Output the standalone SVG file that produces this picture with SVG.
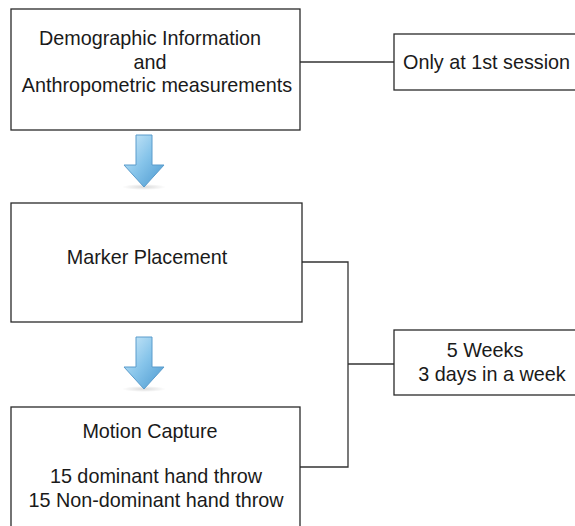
<svg xmlns="http://www.w3.org/2000/svg" width="575" height="526" viewBox="0 0 575 526">
<style>
.box{fill:#fff;stroke:#2a2a2a;stroke-width:1.3}
.t{font-family:"Liberation Sans",Arial,sans-serif;font-size:19.8px;fill:#1a1a1a}
.c{text-anchor:middle}
.ln{fill:none;stroke:#333;stroke-width:1.3}
</style>
<defs>
<linearGradient id="ag" x1="0" y1="0" x2="1" y2="1">
<stop offset="0" stop-color="#d2ecfa"/>
<stop offset="0.5" stop-color="#86c4ea"/>
<stop offset="1" stop-color="#4b98cf"/>
</linearGradient>
<radialGradient id="sh" cx="0.5" cy="0.5" r="0.5">
<stop offset="0" stop-color="#000" stop-opacity="0.15"/>
<stop offset="1" stop-color="#000" stop-opacity="0"/>
</radialGradient>
<g id="arrow">
<ellipse cx="0" cy="52" rx="22" ry="3" fill="url(#sh)"/>
<path d="M-8,0 H8 V30 H20 L0,52 L-20,30 H-8 Z" fill="url(#ag)" stroke="#5a9ccc" stroke-width="1"/>
</g>
</defs>
<g id="connectors">
<path class="ln" d="M300,62 H394"/>
<path class="ln" d="M302,262 H348 V467 H300"/>
<path class="ln" d="M348,364 H394"/>
</g>
<g id="n1">
<rect class="box" x="11" y="9" width="289" height="121"/>
<text class="t c" x="150" y="45">Demographic Information</text>
<text class="t c" x="150" y="69">and</text>
<text class="t c" x="157" y="92">Anthropometric measurements</text>
</g>
<g id="a1"><use href="#arrow" x="144" y="135"/></g>
<g id="n2">
<rect class="box" x="11" y="203" width="291" height="119"/>
<text class="t c" x="147" y="264">Marker Placement</text>
</g>
<g id="a2"><use href="#arrow" x="144" y="337"/></g>
<g id="n3">
<rect class="box" x="11" y="407" width="289" height="130"/>
<text class="t c" x="150" y="438">Motion Capture</text>
<text class="t c" x="156" y="483">15 dominant hand throw</text>
<text class="t c" x="156" y="507">15 Non-dominant hand throw</text>
</g>
<g id="n4">
<rect class="box" x="394" y="34" width="190" height="56"/>
<text class="t" x="403" y="69">Only at 1st session</text>
</g>
<g id="n5">
<rect class="box" x="394" y="330" width="190" height="65"/>
<text class="t c" x="485" y="357">5 Weeks</text>
<text class="t c" x="492" y="381">3 days in a week</text>
</g>
</svg>
